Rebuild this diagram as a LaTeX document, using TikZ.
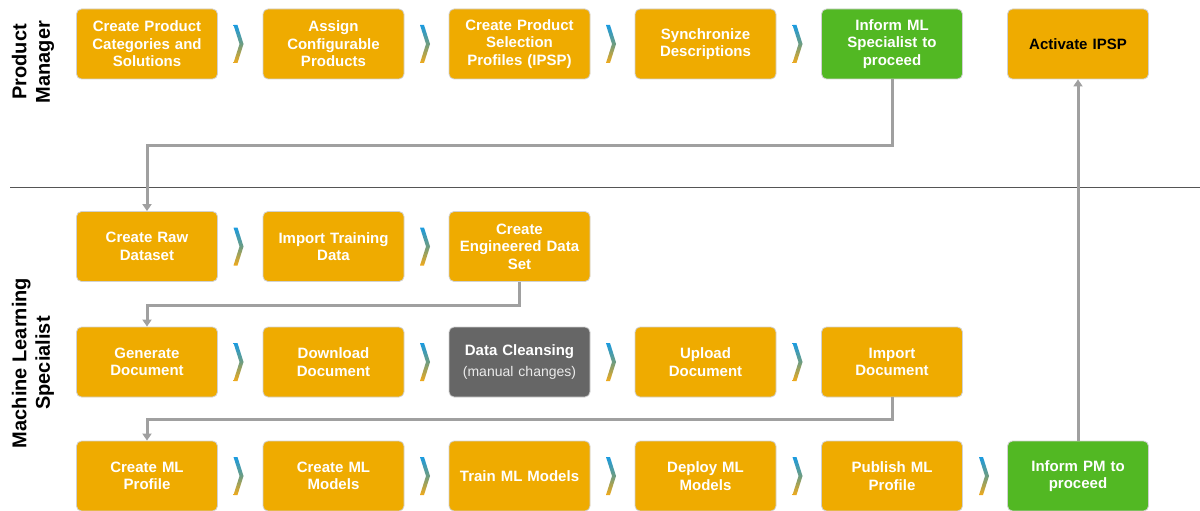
\documentclass[tikz,border=0pt]{standalone}
\usepackage{fontspec}
\setmainfont{Liberation Sans}
\usetikzlibrary{arrows.meta}
\definecolor{gold}{HTML}{EFAB00}
\definecolor{leaf}{HTML}{52B823}
\definecolor{slate}{HTML}{666666}
\definecolor{wire}{HTML}{A0A0A0}
\definecolor{rule}{HTML}{555555}
\definecolor{chevblue}{HTML}{1A9BE0}
\definecolor{chevmid}{HTML}{6E9C80}
\definecolor{chevorange}{HTML}{F2AA1A}

\tikzset{
  task/.style={draw=black!18, line width=0.8pt, rounded corners=5pt,
    minimum width=141pt, minimum height=70pt, text width=132pt,
    align=center, inner sep=0pt, fill=gold, text=white,
    font=\fontsize{15}{17.5}\selectfont\bfseries},
  handoff/.style={task, fill=leaf},
  manual/.style={task, fill=slate},
  flow/.style={draw=wire, line width=3pt,
    -{Triangle[length=7pt,width=9pt]}},
  lane/.style={rotate=90, align=center,
    font=\fontsize{20}{23.5}\selectfont\bfseries},
  chev/.pic={
    \shade[top color=chevblue, bottom color=chevorange, middle color=chevmid]
      (-5,-19) -- (-1,-19) -- (5,0) -- (-1,19) -- (-5,19) -- (1,0) -- cycle;
  }
}

\begin{document}
\begin{tikzpicture}[x=1pt, y=-1pt]
  \useasboundingbox (0,0) rectangle (1200,511);

  % lane labels and divider
  \node[lane] (pm) at (33,62) {Product\\Manager};
  \node[lane] (mls) at (33,363) {Machine Learning\\Specialist};
  \draw[rule, line width=1pt] (10,187) -- (1200,187);

  % product manager lane
  \node[task]    (a1) at (147,44)    {Create Product\\Categories and\\Solutions};
  \node[task]    (a2) at (333.5,44)  {Assign\\Configurable\\Products};
  \node[task]    (a3) at (519.5,44)  {Create Product\\Selection\\Profiles (IPSP)};
  \node[task]    (a4) at (705.5,44)  {Synchronize\\Descriptions};
  \node[handoff] (a5) at (892,44)    {Inform ML\\Specialist to\\proceed};
  \node[task, text=black] (a6) at (1078,44) {Activate IPSP};

  % machine learning lane, first row
  \node[task] (b1) at (147,246.5)   {Create Raw\\Dataset};
  \node[task] (b2) at (333.5,246.5) {Import Training\\Data};
  \node[task] (b3) at (519.5,246.5) {Create\\Engineered Data\\Set};

  % second row
  \node[task]   (c1) at (147,362)   {Generate\\Document};
  \node[task]   (c2) at (333.5,362) {Download\\Document};
  \node[manual] (c3) at (519.5,362) {Data Cleansing\\[4pt]{\mdseries\fontsize{14}{17}\selectfont\color{white!92!black}(manual changes)}};
  \node[task]   (c4) at (705.5,362) {Upload\\Document};
  \node[task]   (c5) at (892,362)   {Import\\Document};

  % third row
  \node[task]    (d1) at (147,476)   {Create ML\\Profile};
  \node[task]    (d2) at (333.5,476) {Create ML\\Models};
  \node[task]    (d3) at (519.5,476) {Train ML Models};
  \node[task]    (d4) at (705.5,476) {Deploy ML\\Models};
  \node[task]    (d5) at (892,476)   {Publish ML\\Profile};
  \node[handoff] (d6) at (1078,476)  {Inform PM to\\proceed};

  % step chevrons
  \foreach \y/\n in {44/4, 246.5/2, 362/4, 476/5} {
    \foreach \x [count=\i] in {238.5, 425, 611, 797.5, 984} {
      \ifnum\i>\n\else
        \pic at (\x,\y) {chev};
      \fi
    }
  }

  % hand-over connectors
  \draw[flow] (a5.south) -- (892,145) -- (147,145) -- (b1.north);
  \draw[flow] (b3.south) -- (519.5,305) -- (147,305) -- (c1.north);
  \draw[flow] (c5.south) -- (892,419) -- (147,419) -- (d1.north);
  \draw[flow] (d6.north) -- (a6.south);
\end{tikzpicture}
\end{document}
